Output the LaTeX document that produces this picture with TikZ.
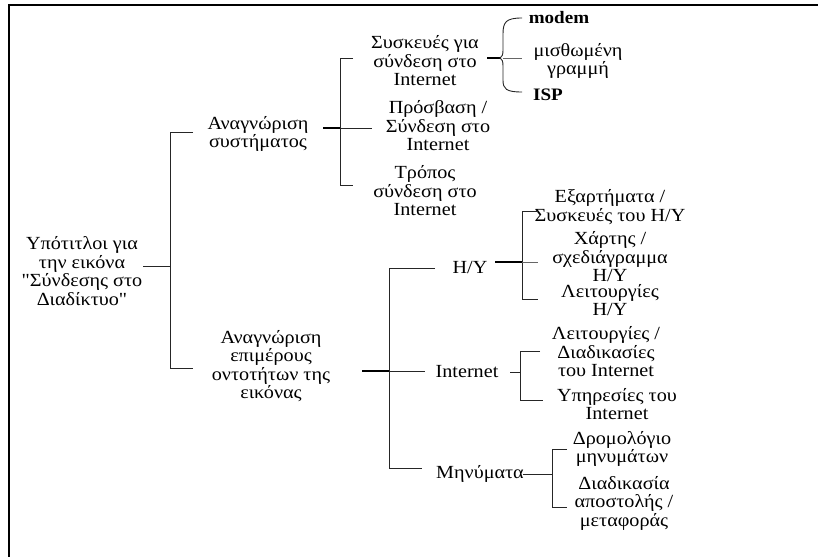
\documentclass[tikz,border=0pt]{standalone}
\usepackage{fontspec}
\setmainfont{Liberation Serif}[Ligatures=TeXOff,FakeStretch=1.09]
\begin{document}
\begin{tikzpicture}[x=1pt,y=-1pt,
  lbl/.style={align=center,inner sep=0pt,font=\fontsize{18.5}{18.5}\selectfont},
  blbl/.style={lbl,font=\fontsize{17.5}{18.5}\selectfont\bfseries},
  thin/.style={line width=0.9pt,black!85},
  thick/.style={line width=1.6pt,black}]
\useasboundingbox (0,0) rectangle (818,557);
\draw[line width=2pt] (8,5) -- (818,5);
\draw[line width=2pt] (9,5) -- (9,557);
% nodes
\node[lbl] (root) at (82,271) {Υπότιτλοι για\\την εικόνα\\"Σύνδεσης στο\\Διαδίκτυο"};
\node[lbl] (A) at (258,134) {Αναγνώριση\\συστήματος};
\node[lbl] (B) at (271,366) {Αναγνώριση\\επιμέρους\\οντοτήτων της\\εικόνας};
\node[lbl] (A1) at (425,61) {Συσκευές για\\σύνδεση στο\\Internet};
\node[lbl] (A2) at (438,126) {Πρόσβαση /\\Σύνδεση στο\\Internet};
\node[lbl] (A3) at (425,191) {Τρόπος\\σύνδεση στο\\Internet};
\node[blbl] (modem) at (559,18) {modem};
\node[lbl] (misth) at (578,61) {μισθωμένη\\γραμμή};
\node[blbl] (isp) at (548,95) {ISP};
\node[lbl] (HY) at (470,267) {Η/Υ};
\node[lbl] (NET) at (467,372) {Internet};
\node[lbl] (MSG) at (480,474) {Μηνύματα};
\node[lbl] (C1) at (610,207) {Εξαρτήματα /\\Συσκευές του Η/Υ};
\node[lbl] (C2) at (610,257) {Χάρτης /\\σχεδιάγραμμα\\Η/Υ};
\node[lbl] (C3) at (610,300) {Λειτουργίες\\Η/Υ};
\node[lbl] (D1) at (606,352) {Λειτουργίες /\\Διαδικασίες\\του Internet};
\node[lbl] (D2) at (617,404) {Υπηρεσίες του\\Internet};
\node[lbl] (E1) at (622,449) {Δρομολόγιο\\μηνυμάτων};
\node[lbl] (E2) at (624,503) {Διαδικασία\\αποστολής /\\μεταφοράς};
% coordinates
\coordinate (r0) at (143,266); \coordinate (r1) at (170,266);
\coordinate (rT) at (170,132); \coordinate (rTe) at (193,132);
\coordinate (rB) at (170,368); \coordinate (rBe) at (193,368);
\coordinate (a0) at (323,128); \coordinate (a1) at (340,128); \coordinate (a1e) at (372,128);
\coordinate (aT) at (340,58); \coordinate (aTe) at (353,58);
\coordinate (aB) at (340,185); \coordinate (aBe) at (353,185);
\coordinate (s0) at (487,58); \coordinate (s1) at (500,58);
\coordinate (bT) at (522,18); \coordinate (bB) at (522,92); \coordinate (bM) at (503,58); \coordinate (bMe) at (522,58);
\coordinate (b0) at (362,371); \coordinate (b1) at (389,371); \coordinate (b1e) at (425,371);
\coordinate (bt) at (389,268); \coordinate (bte) at (435,268);
\coordinate (bb) at (389,468); \coordinate (bbe) at (422,468);
\coordinate (h0) at (495,262); \coordinate (h1) at (522,262); \coordinate (h1e) at (538,262);
\coordinate (hT) at (522,211); \coordinate (hTe) at (538,211);
\coordinate (hB) at (522,299); \coordinate (hBe) at (538,299);
\coordinate (n0) at (510,372); \coordinate (n1) at (520,372);
\coordinate (nT) at (520,351); \coordinate (nTe) at (540,351);
\coordinate (nB) at (520,400); \coordinate (nBe) at (543,400);
\coordinate (m0) at (523,474); \coordinate (m1) at (552,474);
\coordinate (mT) at (552,449); \coordinate (mTe) at (567,449);
\coordinate (mB) at (552,507); \coordinate (mBe) at (567,507);
% root bracket
\draw[thin] (r0) -- (r1);
\draw[thin] (rTe) -- (rT) -- (rB) -- (rBe);
% A bracket
\draw[thick] (a0) -- (a1);
\draw[thin] (aTe) -- (aT) -- (aB) -- (aBe);
\draw[thin] (a1) -- (a1e);
% brace
\draw[thick] (s0) -- (s1);
\draw[thin] (bT) .. controls (506,18) and (503,22) .. (503,34) -- (503,50) .. controls (503,55) and (502,57) .. (500,58) .. controls (502,59) and (503,61) .. (503,66) -- (503,80) .. controls (503,89) and (506,92) .. (bB);
\draw[thin,black!60] (bM) -- (bMe);
% B bar
\draw[thick] (b0) -- (b1);
\draw[thin] (b1) -- (b1e);
\draw[thin] (bte) -- (bt) -- (bb) -- (bbe);
% H/Y
\draw[thick] (h0) -- (h1);
\draw[thin] (hTe) -- (hT) -- (hB) -- (hBe);
\draw[thin,black!60] (h1) -- (h1e);
% Internet
\draw[thin] (n0) -- (n1);
\draw[thin] (nTe) -- (nT) -- (nB) -- (nBe);
% Messages
\draw[thin] (m0) -- (m1);
\draw[thin] (mTe) -- (mT) -- (mB) -- (mBe);
\end{tikzpicture}
\end{document}
